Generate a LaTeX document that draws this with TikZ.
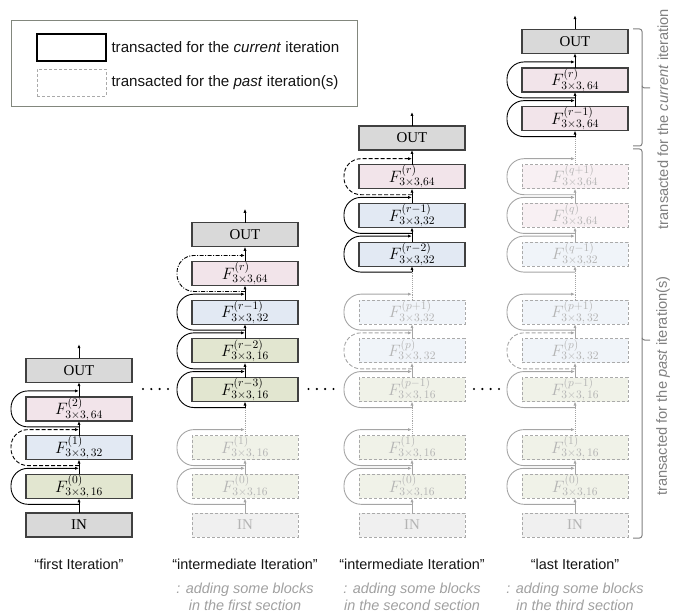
\RequirePackage{fix-cm}
\documentclass[tikz,border=0pt]{standalone}
\usepackage{fontspec}
\setsansfont{Liberation Sans}
\newfontfamily\ioserif{Liberation Serif}
\usetikzlibrary{arrows.meta,calc}
\definecolor{cgray}{RGB}{217,217,217}
\definecolor{cpink}{RGB}{242,228,234}
\definecolor{cblue}{RGB}{226,233,243}
\definecolor{cgreen}{RGB}{226,230,208}
\definecolor{pgray}{RGB}{240,240,240}
\definecolor{ppink}{RGB}{248,240,243}
\definecolor{pblue}{RGB}{240,244,249}
\definecolor{pgreen}{RGB}{240,242,232}
\definecolor{bord}{RGB}{64,64,64}
\definecolor{pbord}{RGB}{170,170,170}
\definecolor{ptext}{RGB}{180,180,180}
\definecolor{pline}{RGB}{165,165,165}
\definecolor{legc}{RGB}{130,135,125}
\definecolor{subc}{RGB}{160,160,160}
\definecolor{brc}{RGB}{128,128,128}
\definecolor{tx}{RGB}{20,20,20}
\newcommand\mfont{\fontsize{16.5}{18}\selectfont}
\newcommand\iofont{\ioserif\fontsize{15}{18}\selectfont}
\newcommand\FF[2]{\raisebox{-2.5bp}{$F^{\raisebox{1.5bp}{$\scriptstyle(#1)$}}_{#2}$}}
\newcommand\skl[2][]{\draw[lp,#1] ([yshift=-6bp]#2.south) -| ([xshift=-15bp,yshift=6bp]#2.north west) -- ([yshift=6bp]#2.north);}
\newcommand\pskl[2][]{\draw[plp,#1] ([yshift=-6bp]#2.south) -| ([xshift=-15bp,yshift=6bp]#2.north west) -- ([yshift=6bp]#2.north);}
\newcommand\gapc[2]{\draw[gapl] (#1.north) -- ([yshift=-6bp]#2.south); \draw[ar] ([yshift=-6bp]#2.south) -- (#2.south);}
\newcommand\gapp[2]{\draw[gapl] (#1.north) -- ([yshift=-6bp]#2.south); \draw[par] ([yshift=-6bp]#2.south) -- (#2.south);}
\tikzset{
 blk/.style={draw=bord, line width=1.2bp, minimum width=106bp, minimum height=24bp, inner sep=0pt, outer sep=0pt, font=\mfont},
 pst/.style={blk, draw=pbord, line width=0.9bp, dash pattern=on 3bp off 2bp, text=ptext},
 io/.style={font=\iofont},
 ar/.style={draw=black, line width=0.9bp, -{Latex[length=4bp,width=3.2bp]}},
 par/.style={draw=pline, line width=0.9bp, -{Latex[length=4bp,width=3.2bp]}},
 lp/.style={ar, rounded corners=17bp},
 plp/.style={par, rounded corners=17bp},
 gapl/.style={draw=pline, line width=0.9bp, densely dotted},
 dsh/.style={dash pattern=on 4bp off 2bp},
 dshd/.style={dash pattern=on 4bp off 1.5bp on 1bp off 1.5bp},
 ttl/.style={font=\sffamily\fontsize{14.5}{17}\selectfont, text=tx},
 sub/.style={font=\sffamily\itshape\fontsize{14.5}{16.5}\selectfont, text=subc, align=center},
 brace/.style={draw=brc, line width=1bp, rounded corners=2.5bp},
}
\begin{document}
\begin{tikzpicture}[x=1bp,y=-1bp]
\useasboundingbox (0,0) rectangle (694,616);
% legend
\node[draw=legc, line width=1bp, minimum width=346bp, minimum height=86bp, inner sep=0pt, anchor=north west] (lg) at (11,20) {};
\node[blk, draw=black, fill=white, minimum width=69bp, minimum height=27bp] (ls1) at (71.5,47.5) {};
\node[pst, fill=white, minimum width=69bp, minimum height=27bp] (ls2) at (71.5,82.5) {};
\node[anchor=west, font=\sffamily\fontsize{15.2}{18}\selectfont, text=tx] (lt1) at (108,47.5) {transacted for the \textit{current} iteration};
\node[anchor=west, font=\sffamily\fontsize{15.2}{18}\selectfont, text=tx] (lt2) at (108,82.5) {transacted for the \textit{past} iteration(s)};

% column 1
\node[blk, fill=cgray, io] (a0) at (79,525) {IN};
\node[blk, fill=cgreen] (a1) at (79,486.3) {\FF{0}{3\times3,\,16}};
\node[blk, fill=cblue] (a2) at (79,447.6) {\FF{1}{3\times3,\,32}};
\node[blk, fill=cpink] (a3) at (79,408.9) {\FF{2}{3\times3,\,64}};
\node[blk, fill=cgray, io] (a4) at (79,370.2) {OUT};
\coordinate (t1) at ([yshift=14bp]a4.north);
\draw[ar] (a0) -- (a1); \draw[ar] (a1) -- (a2); \draw[ar] (a2) -- (a3); \draw[ar] (a3) -- (a4); \draw[ar] (a4) -- (t1);
\skl{a1} \skl[dsh]{a2} \skl{a3}

% column 2
\node[pst, fill=pgray, io] (b0) at (245,525) {IN};
\node[pst, fill=pgreen] (b1) at (245,486.3) {\FF{0}{3\times3,16}};
\node[pst, fill=pgreen] (b2) at (245,447.6) {\FF{1}{3\times3,\,16}};
\node[blk, fill=cgreen] (b3) at (245,389.55) {\FF{r-3}{3\times3,\,16}};
\node[blk, fill=cgreen] (b4) at (245,350.85) {\FF{r-2}{3\times3,\,16}};
\node[blk, fill=cblue] (b5) at (245,312.15) {\FF{r-1}{3\times3,\,32}};
\node[blk, fill=cpink] (b6) at (245,273.45) {\FF{r}{3\times3,64}};
\node[blk, fill=cgray, io] (b7) at (245,234.75) {OUT};
\coordinate (t2) at ([yshift=14bp]b7.north);
\draw[par] (b0) -- (b1); \draw[par] (b1) -- (b2);
\gapc{b2}{b3}
\draw[ar] (b3) -- (b4); \draw[ar] (b4) -- (b5); \draw[ar] (b5) -- (b6); \draw[ar] (b6) -- (b7); \draw[ar] (b7) -- (t2);
\pskl{b1} \pskl{b2} \skl{b3} \skl{b4} \skl{b5} \skl[dshd]{b6}

% column 3
\node[pst, fill=pgray, io] (c0) at (412,525) {IN};
\node[pst, fill=pgreen] (c1) at (412,486.3) {\FF{0}{3\times3,16}};
\node[pst, fill=pgreen] (c2) at (412,447.6) {\FF{1}{3\times3,\,16}};
\node[pst, fill=pgreen] (c3) at (412,389.55) {\FF{p-1}{3\times3,\,16}};
\node[pst, fill=pblue] (c4) at (412,350.85) {\FF{p}{3\times3,\,32}};
\node[pst, fill=pblue] (c5) at (412,312.15) {\FF{p+1}{3\times3,32}};
\node[blk, fill=cblue] (c6) at (412,254.1) {\FF{r-2}{3\times3,32}};
\node[blk, fill=cblue] (c7) at (412,215.4) {\FF{r-1}{3\times3,32}};
\node[blk, fill=cpink] (c8) at (412,176.7) {\FF{r}{3\times3,64}};
\node[blk, fill=cgray, io] (c9) at (412,138) {OUT};
\coordinate (t3) at ([yshift=14bp]c9.north);
\draw[par] (c0) -- (c1); \draw[par] (c1) -- (c2);
\gapp{c2}{c3}
\draw[par] (c3) -- (c4); \draw[par] (c4) -- (c5);
\gapc{c5}{c6}
\draw[ar] (c6) -- (c7); \draw[ar] (c7) -- (c8); \draw[ar] (c8) -- (c9); \draw[ar] (c9) -- (t3);
\pskl{c1} \pskl{c2} \pskl{c3} \pskl[dsh]{c4} \pskl{c5} \skl{c6} \skl{c7} \skl[dsh]{c8}

% column 4
\node[pst, fill=pgray, io] (d0) at (575,525) {IN};
\node[pst, fill=pgreen] (d1) at (575,486.3) {\FF{0}{3\times3,16}};
\node[pst, fill=pgreen] (d2) at (575,447.6) {\FF{1}{3\times3,\,16}};
\node[pst, fill=pgreen] (d3) at (575,389.55) {\FF{p-1}{3\times3,\,16}};
\node[pst, fill=pblue] (d4) at (575,350.85) {\FF{p}{3\times3,\,32}};
\node[pst, fill=pblue] (d5) at (575,312.15) {\FF{p+1}{3\times3,\,32}};
\node[pst, fill=pblue] (d6) at (575,254.1) {\FF{q-1}{3\times3,32}};
\node[pst, fill=ppink] (d7) at (575,215.4) {\FF{q}{3\times3,64}};
\node[pst, fill=ppink] (d8) at (575,176.7) {\FF{q+1}{3\times3,64}};
\node[blk, fill=cpink] (d9) at (575,118.65) {\FF{r-1}{3\times3,\,64}};
\node[blk, fill=cpink] (d10) at (575,79.95) {\FF{r}{3\times3,\,64}};
\node[blk, fill=cgray, io] (d11) at (575,41.25) {OUT};
\coordinate (t4) at ([yshift=14bp]d11.north);
\draw[par] (d0) -- (d1); \draw[par] (d1) -- (d2);
\gapp{d2}{d3}
\draw[par] (d3) -- (d4); \draw[par] (d4) -- (d5);
\gapp{d5}{d6}
\draw[par] (d6) -- (d7); \draw[par] (d7) -- (d8);
\gapc{d8}{d9}
\draw[ar] (d9) -- (d10); \draw[ar] (d10) -- (d11); \draw[ar] (d11) -- (t4);
\pskl{d1} \pskl{d2} \pskl{d3} \pskl[dsh]{d4} \pskl{d5} \pskl{d6} \pskl{d7} \pskl{d8} \skl{d9} \skl{d10}

% dots between columns
\foreach \x in {143,151.3,159.6,168, 308.5,316.8,325.1,333.5, 474,482.3,490.6,499} \fill[black] (\x,389) circle (1.2bp);

% braces
\draw[brace] (633,29) -| (642,88) -- (650,88);
\draw[brace] (642,86) |- (633,146);
\draw[brace] (633,149) -| (642,340) -- (650,340);
\draw[brace] (642,338) |- (633,538);
\node[rotate=90, font=\sffamily\fontsize{14.7}{17}\selectfont, text=brc] (rt1) at (663,119) {transacted for the \textit{current} iteration};
\node[rotate=90, font=\sffamily\fontsize{14.7}{17}\selectfont, text=brc] (rt2) at (663,386) {transacted for the \textit{past} iteration(s)};

% titles
\node[ttl] (h1) at (79,564) {“first Iteration”};
\node[ttl] (h2) at (245,564) {“intermediate Iteration”};
\node[ttl] (h3) at (412,564) {“intermediate Iteration”};
\node[ttl] (h4) at (575,564) {“last Iteration”};
\node[sub] (s2) at (245,597) {: adding some blocks\\in the first section};
\node[sub] (s3) at (412,597) {: adding some blocks\\in the second section};
\node[sub] (s4) at (575,597) {: adding some blocks\\in the third section};
\end{tikzpicture}
\end{document}
